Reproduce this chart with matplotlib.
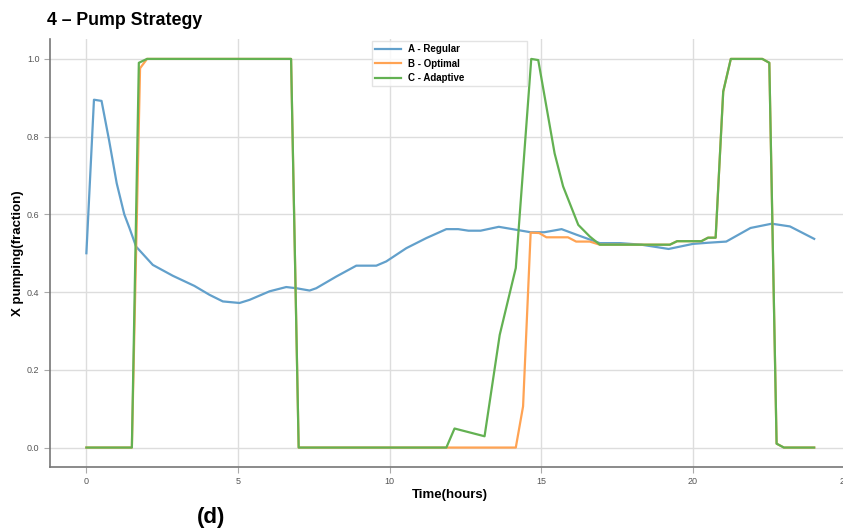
import numpy as np
import matplotlib.pyplot as plt

plt.rcParams['font.family'] = ['Liberation Sans', 'DejaVu Sans']

# A - Regular
t_reg = [0, 0.25, 0.5, 0.75, 1.0, 1.25, 1.42, 1.64, 2.19, 2.85, 3.56, 4.06, 4.5, 5.05, 5.38,
         6.04, 6.59, 6.92, 7.36, 7.58, 8.24, 8.9, 9.56, 9.89, 10.55, 11.21, 11.87, 12.26,
         12.6, 13.0, 13.6, 14.2, 14.65, 15.1, 15.67, 16.15, 16.93, 17.6, 18.3, 19.2, 20.0,
         20.5, 21.1, 21.9, 22.6, 23.2, 24.0]
x_reg = [0.5, 0.895, 0.892, 0.79, 0.68, 0.60, 0.565, 0.517, 0.470, 0.442, 0.416, 0.393, 0.376,
         0.372, 0.380, 0.402, 0.413, 0.41, 0.404, 0.41, 0.44, 0.468, 0.468, 0.479, 0.513, 0.539,
         0.562, 0.562, 0.558, 0.558, 0.568, 0.56, 0.554, 0.554, 0.562, 0.548, 0.526, 0.526,
         0.522, 0.511, 0.524, 0.527, 0.530, 0.565, 0.576, 0.569, 0.537]

# B - Optimal
t_opt = [0, 1.5, 1.77, 2.0, 6.75, 7.0, 14.16, 14.4, 14.65, 14.93, 15.17, 15.88, 16.15, 16.6,
         16.93, 19.24, 19.48, 20.28, 20.5, 20.75, 21.0, 21.25, 22.29, 22.52, 22.76, 23.0, 24.0]
x_opt = [0, 0, 0.976, 1.0, 1.0, 0, 0, 0.106, 0.553, 0.552, 0.541, 0.541, 0.530, 0.530,
         0.522, 0.522, 0.531, 0.531, 0.540, 0.540, 0.916, 1.0, 1.0, 0.99, 0.01, 0, 0]

# C - Adaptive
t_ada = [0, 1.5, 1.73, 2.0, 6.75, 7.0, 11.87, 12.14, 13.13, 13.63, 14.16, 14.67, 14.9, 15.44,
         15.72, 16.22, 16.6, 16.93, 19.24, 19.48, 20.28, 20.5, 20.75, 21.0, 21.25, 22.29,
         22.52, 22.76, 23.0, 24.0]
x_ada = [0, 0, 0.99, 1.0, 1.0, 0, 0, 0.049, 0.029, 0.29, 0.462, 1.0, 0.997, 0.757, 0.672,
         0.573, 0.543, 0.522, 0.522, 0.531, 0.531, 0.540, 0.540, 0.916, 1.0, 1.0, 0.99, 0.01,
         0, 0]

fig = plt.figure(figsize=(8.43, 5.30), dpi=100)
ax = fig.add_axes([0.0593, 0.1189, 0.9497, 0.8066])

ax.plot(t_reg, x_reg, color='#62a0cb', lw=1.6, label='A - Regular')
ax.plot(t_opt, x_opt, color='#ffa353', lw=1.6, label='B - Optimal')
ax.plot(t_ada, x_ada, color='#63b152', lw=1.6, label='C - Adaptive')

ax.set_xlim(-1.2, 25.2)
ax.set_ylim(-0.05, 1.05)
ax.set_xticks([0, 5, 10, 15, 20, 25])
ax.set_yticks([0, 0.2, 0.4, 0.6, 0.8, 1.0])
ax.grid(True, color='#dddddd', lw=1.0)
ax.set_axisbelow(True)
for s in ['top', 'right']:
    ax.spines[s].set_visible(False)
for s in ['left', 'bottom']:
    ax.spines[s].set_color('#777777')
    ax.spines[s].set_linewidth(1.2)
ax.tick_params(labelsize=6.5, labelcolor='#555555', color='#aaaaaa', length=4)

ax.set_xlabel('Time(hours)', fontsize=9.5, fontweight='bold', labelpad=2)
ax.set_ylabel('X pumping(fraction)', fontsize=9.5, fontweight='bold', labelpad=2)

leg = ax.legend(loc='upper left', bbox_to_anchor=(0.402, 0.0, 0.194, 0.997), mode='expand',
                prop={'size': 7, 'weight': 'bold'}, handlelength=2.6, borderpad=0.35,
                labelspacing=0.45, fancybox=False, borderaxespad=0.0)
leg.get_frame().set_edgecolor('#dddddd')

fig.text(0.056, 0.952, '4 \u2013 Pump Strategy', fontsize=12.8, fontweight='bold')
fig.text(0.233, 0.014, '(d)', fontsize=16, fontweight='bold')

fig.savefig('out.png', dpi=100)
